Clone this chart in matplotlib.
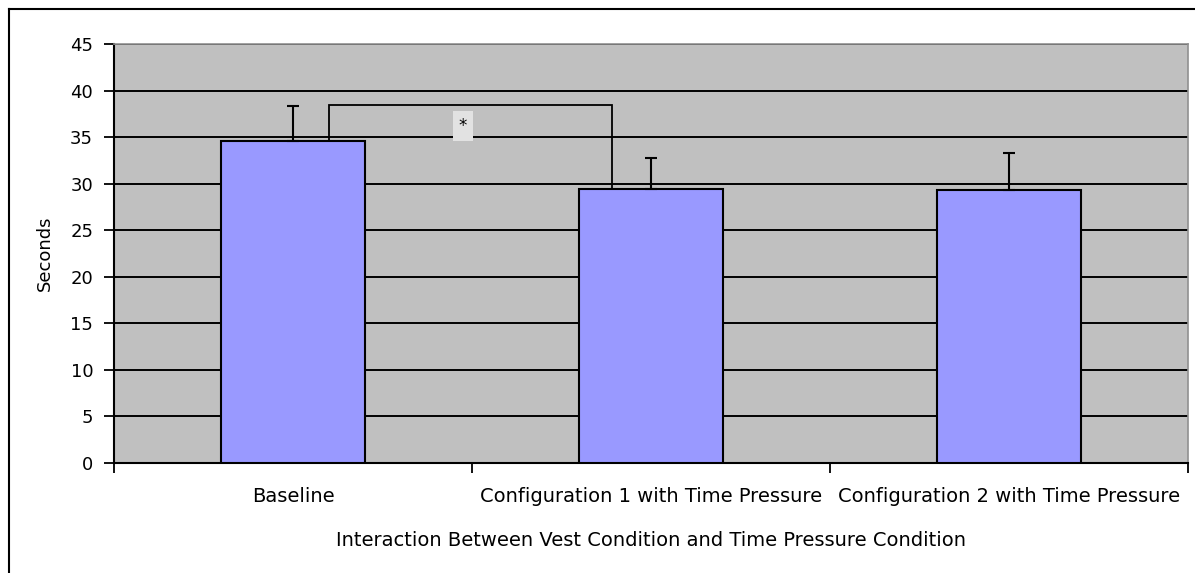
import numpy as np
import matplotlib
matplotlib.use("Agg")
import matplotlib.pyplot as plt
from matplotlib.lines import Line2D

# data
conditions = ["Baseline",
              "Configuration 1 with Time Pressure",
              "Configuration 2 with Time Pressure"]
means = [34.6, 29.4, 29.3]
err_up = [3.7, 3.4, 4.0]

# significance bracket between Baseline and Config 1
bracket_x = [0.10, 0.89]
bracket_top = 38.5
star_pos = (0.475, 36.2)

plt.rcParams["font.family"] = ["DejaVu Sans"]

fig = plt.figure(figsize=(11.95, 5.73), dpi=100)
ax = fig.add_axes([114 / 1195, 1 - 463 / 573, 1074 / 1195, 419 / 573])

x = np.arange(len(conditions))
ax.set_facecolor("#c0c0c0")
ax.bar(x, means, width=0.40, color="#9999ff", edgecolor="black", linewidth=1.5, zorder=3)
ax.errorbar(x, means, yerr=[np.zeros(len(means)), err_up], fmt="none",
            ecolor="black", elinewidth=1.5, capsize=4, capthick=1.5, zorder=4)

# bracket
ax.plot([bracket_x[0], bracket_x[0], bracket_x[1], bracket_x[1]],
        [means[0], bracket_top, bracket_top, means[1]],
        color="black", linewidth=1.3, zorder=4, solid_joinstyle="miter")
ax.text(star_pos[0], star_pos[1], "*", ha="center", va="center", fontsize=12,
        bbox=dict(boxstyle="square,pad=0.35", fc="#e2e2e2", ec="none"), zorder=5)

ax.set_xlim(-0.5, 2.5)
ax.set_ylim(0, 45)
ax.set_yticks(range(0, 46, 5))
ax.yaxis.grid(True, color="black", linewidth=1.4, zorder=1)
ax.set_axisbelow(True)

ax.set_xticks([-0.5, 0.5, 1.5, 2.5])
ax.set_xticklabels([])
ax.set_xticks(x, minor=True)
ax.set_xticklabels(conditions, minor=True, fontsize=14)
ax.tick_params(axis="x", which="minor", length=0, pad=17)
ax.tick_params(axis="x", which="major", length=7, width=1.3, direction="out")
ax.tick_params(axis="y", length=7, width=1.3, direction="out", labelsize=13, pad=8)

for s in ["top", "right"]:
    ax.spines[s].set_color("#909090")
    ax.spines[s].set_linewidth(1.2)
for s in ["left", "bottom"]:
    ax.spines[s].set_color("black")
    ax.spines[s].set_linewidth(1.5)

ax.set_ylabel("Seconds", fontsize=13, labelpad=12)
ax.set_xlabel("Interaction Between Vest Condition and Time Pressure Condition",
              fontsize=14, labelpad=18)

# outer chart frame
fig.add_artist(Line2D([9 / 1195, 9 / 1195], [0, 1 - 9 / 573], color="black", linewidth=1.5))
fig.add_artist(Line2D([9 / 1195, 1], [1 - 9 / 573, 1 - 9 / 573], color="black", linewidth=1.5))

fig.savefig("out.png", dpi=100)
